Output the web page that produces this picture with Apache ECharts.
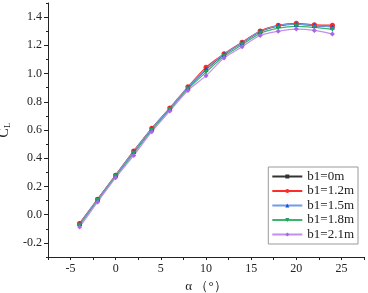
<!DOCTYPE html>
<html>
<head>
<meta charset="utf-8">
<script src="https://cdn.jsdelivr.net/npm/echarts@6/dist/echarts.min.js"></script>
<style>
  html, body { margin: 0; padding: 0; background: #fff; }
  #CLChart { width: 368px; height: 293px; }
</style>
</head>
<body>
<div id="CLChart"></div>
<script>
// 攻角
const alphaValues = [-4, -2, 0, 2, 4, 6, 8, 10, 12, 14, 16, 18, 20, 22, 24];
const seriesNames = ['b1=0m', 'b1=1.2m', 'b1=1.5m', 'b1=1.8m', 'b1=2.1m'];
const cl_b0 = [-0.065, 0.108, 0.278, 0.448, 0.608, 0.752, 0.900, 1.028, 1.135, 1.218, 1.298, 1.338, 1.350, 1.340, 1.333];
const cl_b12 = [-0.062, 0.110, 0.280, 0.452, 0.612, 0.756, 0.906, 1.044, 1.140, 1.222, 1.302, 1.342, 1.356, 1.345, 1.343];
const cl_b15 = [-0.063, 0.109, 0.279, 0.450, 0.610, 0.754, 0.903, 1.032, 1.138, 1.219, 1.300, 1.340, 1.350, 1.342, 1.330];
const cl_b18 = [-0.075, 0.100, 0.270, 0.435, 0.598, 0.744, 0.890, 1.010, 1.122, 1.205, 1.285, 1.322, 1.335, 1.327, 1.313];
const cl_b21 = [-0.088, 0.090, 0.262, 0.420, 0.588, 0.735, 0.880, 0.985, 1.110, 1.190, 1.270, 1.300, 1.315, 1.306, 1.280];
const yTickLabels = [-0.2, 0, 0.2, 0.4, 0.6, 0.8, 1.0, 1.2, 1.4];

const clData = [cl_b0, cl_b12, cl_b15, cl_b18, cl_b21];
const lineColors = ['#333333', '#ff2a2a', '#6f9be8', '#3cb371', '#c08ff0'];
const markerColors = ['#333333', '#ff2a2a', '#1450d8', '#22a05a', '#a865e8'];
const markers = ['rect', 'circle', 'triangle', 'path://M0,0 L10,0 L5,10 Z', 'diamond'];

const chart = echarts.init(document.getElementById('CLChart'));
const fontFam = '"Liberation Serif", "DejaVu Serif", serif';

const option = {
  animation: false,
  grid: { left: 48, right: 4, top: 3, bottom: 36, outerBoundsMode: 'none', containLabel: false },
  legend: {
    right: 10,
    top: 167,
    orient: 'vertical',
    data: seriesNames,
    itemWidth: 30,
    itemHeight: 5,
    itemGap: 1.5,
    padding: [3, 4, 3, 3],
    borderColor: '#999',
    borderWidth: 1,
    borderRadius: 0,
    textStyle: { fontFamily: fontFam, fontSize: 13, color: '#222' }
  },
  xAxis: {
    type: 'value',
    min: -7.5,
    max: 27.5,
    interval: 2.5,
    name: 'α （°）',
    nameLocation: 'middle',
    nameGap: 22,
    nameTextStyle: { fontFamily: fontFam, fontSize: 13, color: '#222' },
    splitLine: { show: false },
    axisLine: { onZero: false, lineStyle: { color: '#222' } },
    axisTick: { length: 3, lineStyle: { color: '#222' } },
    axisLabel: {
      fontFamily: fontFam, fontSize: 12, color: '#222', margin: 6,
      formatter: function (v) { return v % 5 === 0 ? String(v) : ''; }
    }
  },
  yAxis: [
    {
      type: 'value',
      min: -0.3,
      max: 1.5,
      name: '{c|C}{l|L}',
      nameLocation: 'middle',
      nameGap: 31,
      nameRotate: 90,
      nameTextStyle: {
        rich: {
          c: { fontFamily: fontFam, fontSize: 14, color: '#222' },
          l: { fontFamily: fontFam, fontSize: 9, color: '#222', padding: [6, 0, 0, 0] }
        }
      },
      splitLine: { show: false },
      axisLine: { show: true, onZero: false, lineStyle: { color: '#222' } },
      axisTick: { length: 4, customValues: yTickLabels, lineStyle: { color: '#222' } },
      axisLabel: {
        fontFamily: fontFam, fontSize: 12, color: '#222', margin: 6,
        customValues: yTickLabels,
        formatter: function (v) { return v.toFixed(1); }
      }
    },
    {
      type: 'value',
      min: -0.3,
      max: 1.5,
      interval: 0.1,
      position: 'left',
      offset: 0,
      splitLine: { show: false },
      axisLine: { show: false, onZero: false },
      axisTick: { length: 2, lineStyle: { color: '#222' } },
      axisLabel: { show: false }
    }
  ],
  series: seriesNames.map(function (name, i) {
    return {
      name: name,
      type: 'line',
      smooth: 0.3,
      yAxisIndex: 0,
      symbol: markers[i],
      symbolSize: i === 0 ? 4 : 5,
      lineStyle: { color: lineColors[i], width: 1.2 },
      itemStyle: { color: markerColors[i] },
      data: alphaValues.map(function (a, j) { return [a, clData[i][j]]; })
    };
  })
};

chart.setOption(option);
</script>
</body>
</html>
